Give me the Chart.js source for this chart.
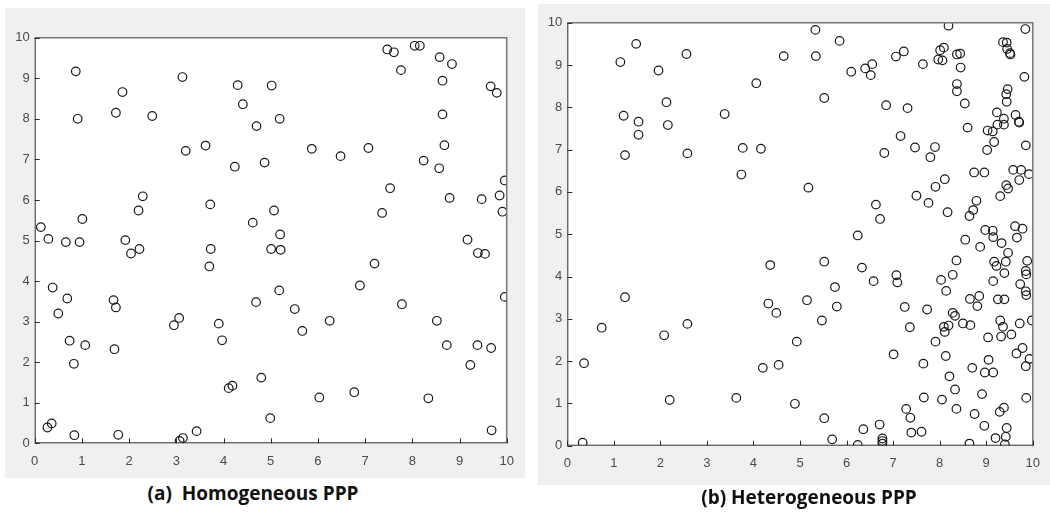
<!DOCTYPE html>
<html>
<head>
<meta charset="utf-8">
<script src="https://cdn.jsdelivr.net/npm/chart.js@4.4.1/dist/chart.umd.min.js"></script>
<style>
  body { margin: 0; background: #fff; width: 1050px; height: 512px; position: relative; overflow: hidden; }
  .panel { position: absolute; background: #f0f0f0; }
  .caption { position: absolute; font-family: "Open Sans", "Noto Sans", sans-serif; font-weight: 700; font-size: 19px; line-height: 26px; color: #111; white-space: pre; transform: translateX(-50%); }
</style>
</head>
<body>
<div class="panel" id="panelA" style="left:5px; top:8px; width:520px; height:470px;">
  <canvas id="homChart" width="520" height="470"></canvas>
</div>
<div class="panel" id="panelB" style="left:538px; top:4px; width:512px; height:481px;">
  <canvas id="hetChart" width="512" height="481"></canvas>
</div>
<div class="caption" style="left:253px; top:480px;">(a)  Homogeneous PPP</div>
<div class="caption" style="left:809px; top:484px;">(b) Heterogeneous PPP</div>

<script>
// Homogeneous PPP points
const homX = [0.13, 0.29, 0.66, 0.95, 0.87, 0.91, 1.01, 1.86, 1.72, 2.49, 2.20, 2.29, 1.92, 3.13, 3.20, 3.62, 3.72,
  4.30, 4.41, 4.24, 4.70, 4.87, 5.02, 4.62, 5.07, 5.19, 5.87, 6.48, 7.07, 7.47, 7.61, 8.05, 8.16, 7.76, 8.58,
  8.84, 8.64, 9.66, 9.79, 8.64, 8.68, 8.24, 8.57, 7.53, 9.96, 8.79, 9.47, 9.85, 9.91, 7.36, 5.20, 5.01, 5.21,
  9.17, 9.39, 9.54, 2.04, 2.22, 3.73, 3.70, 0.38, 0.69, 0.50, 1.67, 1.72, 0.74, 1.07, 1.69, 0.83, 2.95, 3.06,
  3.90, 3.97, 4.69, 5.18, 4.80, 4.11, 4.19, 4.99, 0.27, 0.36, 0.84, 1.77, 3.14, 3.07, 3.43, 7.20, 6.89, 5.51,
  5.67, 6.25, 7.78, 8.52, 8.73, 9.38, 9.67, 9.23, 9.96, 6.03, 6.77, 8.34, 9.68];
const homY = [5.33, 5.04, 4.96, 4.96, 9.17, 8.00, 5.53, 8.66, 8.15, 8.07, 5.74, 6.09, 5.01, 9.03, 7.21, 7.34, 5.89,
  8.83, 8.36, 6.82, 7.82, 6.92, 8.82, 5.44, 5.74, 8.00, 7.26, 7.08, 7.28, 9.71, 9.64, 9.80, 9.80, 9.20, 9.52,
  9.35, 8.94, 8.80, 8.64, 8.11, 7.35, 6.97, 6.78, 6.29, 6.48, 6.05, 6.02, 6.11, 5.71, 5.68, 5.15, 4.79, 4.77,
  5.02, 4.69, 4.67, 4.68, 4.79, 4.79, 4.36, 3.84, 3.57, 3.20, 3.53, 3.35, 2.53, 2.42, 2.32, 1.96, 2.91, 3.09,
  2.95, 2.54, 3.48, 3.77, 1.62, 1.36, 1.42, 0.62, 0.39, 0.49, 0.20, 0.21, 0.13, 0.06, 0.30, 4.43, 3.89, 3.31,
  2.77, 3.02, 3.43, 3.02, 2.42, 2.42, 2.35, 1.93, 3.61, 1.13, 1.26, 1.11, 0.32];

// Heterogeneous PPP points (denser towards x = 10)
const hetX = [1.48, 1.14, 1.96, 2.56, 2.13, 1.21, 1.53, 1.53, 2.16, 1.24, 2.58, 3.38, 4.06, 4.65, 3.77, 4.16, 3.74,
  5.33, 5.34, 5.85, 5.52, 6.10, 6.40, 6.55, 6.52, 7.06, 7.23, 7.64, 6.85, 7.31, 8.01, 8.09, 7.97, 8.06, 8.19,
  8.37, 8.44, 8.45, 8.37, 8.37, 8.54, 8.60, 9.84, 9.36, 9.44, 9.45, 9.51, 9.52, 9.82, 9.46, 9.43, 9.44, 9.23,
  9.38, 9.24, 9.38, 9.63, 9.70, 9.71, 9.03, 9.14, 9.17, 9.02, 9.85, 7.16, 7.47, 7.90, 7.80, 6.81, 8.74, 8.96,
  9.58, 9.75, 9.92, 9.71, 8.11, 7.91, 5.18, 7.50, 7.76, 8.17, 8.79, 8.72, 8.64, 9.43, 9.47, 9.30, 6.63, 6.72,
  6.24, 8.98, 9.14, 9.15, 9.33, 8.55, 8.87, 9.62, 9.78, 9.66,
  9.47, 5.52, 6.33, 6.58, 7.07, 7.09, 5.75, 5.15, 5.79, 5.47, 4.93, 4.49, 4.54, 7.01, 7.25, 7.36, 7.73, 7.65,
  7.66, 8.03, 8.14, 8.28, 8.36, 8.28, 8.33, 8.09, 8.11, 8.19, 7.91, 8.13, 8.21, 8.33, 8.05, 8.36, 8.50, 8.66,
  8.65, 8.85, 8.81, 8.70, 8.91, 8.75, 8.96, 8.64, 9.04, 9.05, 8.97, 9.15, 9.15, 9.17, 9.22, 9.42, 9.39, 9.25,
  9.39, 9.30, 9.36, 9.32, 9.54, 9.65, 9.78, 9.93, 9.85, 9.72, 9.98, 9.88, 9.85, 9.86, 9.73, 9.85, 9.86, 9.86,
  9.38, 9.29, 9.44, 9.20, 9.42, 9.40, 7.28, 7.37, 7.39, 7.61, 6.71, 6.36, 6.77, 6.77, 6.77, 6.24, 5.69, 5.52,
  4.89, 4.36, 4.32, 4.20, 3.63, 1.24, 0.74, 0.36, 2.08, 2.58, 2.20, 0.33];
const hetY = [9.50, 9.07, 8.87, 9.26, 8.12, 7.80, 7.66, 7.35, 7.58, 6.87, 6.91, 7.84, 8.57, 9.21, 7.04, 7.02, 6.41,
  9.83, 9.21, 9.57, 8.22, 8.84, 8.92, 9.02, 8.76, 9.20, 9.32, 9.02, 8.05, 7.98, 9.35, 9.41, 9.13, 9.11, 9.93,
  9.25, 9.27, 8.94, 8.55, 8.38, 8.09, 7.52, 9.85, 9.54, 9.53, 9.38, 9.28, 9.25, 8.72, 8.43, 8.31, 8.13, 7.88,
  7.73, 7.59, 7.59, 7.82, 7.66, 7.64, 7.45, 7.43, 7.18, 6.99, 7.10, 7.32, 7.05, 7.06, 6.82, 6.92, 6.46, 6.46,
  6.52, 6.52, 6.42, 6.28, 6.30, 6.12, 6.10, 5.91, 5.74, 5.52, 5.79, 5.57, 5.43, 6.16, 6.08, 5.90, 5.70, 5.36,
  4.97, 5.10, 5.08, 4.93, 4.79, 4.87, 4.70, 5.19, 5.13, 4.92,
  4.56, 4.35, 4.21, 3.89, 4.03, 3.86, 3.75, 3.44, 3.29, 2.96, 2.46, 3.14, 1.91, 2.16, 3.28, 2.80, 3.22, 1.94,
  1.14, 3.92, 3.66, 4.04, 4.38, 3.14, 3.07, 2.81, 2.69, 2.84, 2.46, 2.12, 1.64, 1.33, 1.09, 0.87, 2.89, 2.85,
  3.47, 3.54, 3.30, 1.84, 1.22, 0.75, 0.47, 0.05, 2.56, 2.03, 1.73, 1.73, 3.89, 4.35, 4.25, 4.35, 4.08, 3.46,
  3.46, 2.96, 2.81, 2.58, 2.63, 2.18, 2.31, 2.05, 1.88, 2.89, 2.96, 4.37, 4.13, 4.05, 3.82, 3.65, 3.56, 1.13,
  0.90, 0.80, 0.42, 0.18, 0.21, 0.03, 0.87, 0.66, 0.31, 0.33, 0.50, 0.39, 0.17, 0.11, 0.05, 0.02, 0.15, 0.65,
  0.99, 4.27, 3.36, 1.84, 1.13, 3.51, 2.79, 1.95, 2.61, 2.88, 1.08, 0.07];

const axisTicks = [0, 1, 2, 3, 4, 5, 6, 7, 8, 9, 10];

// MATLAB-like box: white plot area, dark left/bottom axes, inward ticks
const boxAxes = {
  id: 'boxAxes',
  beforeDraw(chart) {
    const { ctx, chartArea: a } = chart;
    ctx.save();
    ctx.fillStyle = '#fff';
    ctx.fillRect(a.left, a.top, a.right - a.left, a.bottom - a.top);
    ctx.restore();
  },
  afterDraw(chart) {
    const { ctx, chartArea: a, scales } = chart;
    ctx.save();
    // top and right edges
    ctx.strokeStyle = '#777';
    ctx.lineWidth = 1.5;
    ctx.beginPath();
    ctx.moveTo(a.left, a.top);
    ctx.lineTo(a.right, a.top);
    ctx.lineTo(a.right, a.bottom);
    ctx.stroke();
    // left and bottom axes
    ctx.strokeStyle = '#2b2b2b';
    ctx.lineWidth = 1;
    ctx.beginPath();
    ctx.moveTo(a.left + 0.5, a.top);
    ctx.lineTo(a.left + 0.5, a.bottom - 0.5);
    ctx.lineTo(a.right, a.bottom - 0.5);
    ctx.stroke();
    // inward ticks
    ctx.beginPath();
    axisTicks.forEach(v => {
      const x = Math.round(scales.x.getPixelForValue(v)) + 0.5;
      ctx.moveTo(x, a.bottom);
      ctx.lineTo(x, a.bottom - 5);
      const y = Math.round(scales.y.getPixelForValue(v)) + 0.5;
      ctx.moveTo(a.left, y);
      ctx.lineTo(a.left + 5, y);
    });
    ctx.stroke();
    ctx.restore();
  }
};

function makeScatter(canvasId, xs, ys, pad, yWidth, xHeight) {
  const points = xs.map((x, i) => ({ x: x, y: ys[i] }));
  const tickFont = { family: "'Liberation Sans', Arial, sans-serif", size: 13 };
  return new Chart(document.getElementById(canvasId), {
    type: 'scatter',
    data: {
      datasets: [{
        data: points,
        pointStyle: 'circle',
        pointRadius: 4.3,
        pointBorderWidth: 1.2,
        pointBackgroundColor: 'rgba(0,0,0,0)',
        pointBorderColor: '#1a1a1a'
      }]
    },
    options: {
      responsive: false,
      animation: false,
      layout: { padding: pad },
      plugins: { legend: { display: false }, tooltip: { enabled: false } },
      scales: {
        x: {
          type: 'linear', min: 0, max: 10,
          afterBuildTicks: s => { s.ticks = axisTicks.map(v => ({ value: v })); },
          afterFit: s => { s.height = xHeight; },
          grid: { display: false, drawTicks: false },
          border: { display: false },
          ticks: { color: '#4a4a4a', font: tickFont, padding: 10, maxRotation: 0 }
        },
        y: {
          type: 'linear', min: 0, max: 10,
          afterBuildTicks: s => { s.ticks = axisTicks.map(v => ({ value: v })); },
          afterFit: s => { s.width = yWidth; },
          grid: { display: false, drawTicks: false },
          border: { display: false },
          ticks: { color: '#4a4a4a', font: tickFont, padding: 5 }
        }
      }
    },
    plugins: [boxAxes]
  });
}

makeScatter('homChart', homX, homY, { left: 0, top: 29.7, right: 18.3, bottom: 12.7 }, 29.7, 22);
makeScatter('hetChart', hetX, hetY, { left: 0, top: 18.7, right: 10.7, bottom: 17.3 }, 29.3, 22);
</script>
</body>
</html>
